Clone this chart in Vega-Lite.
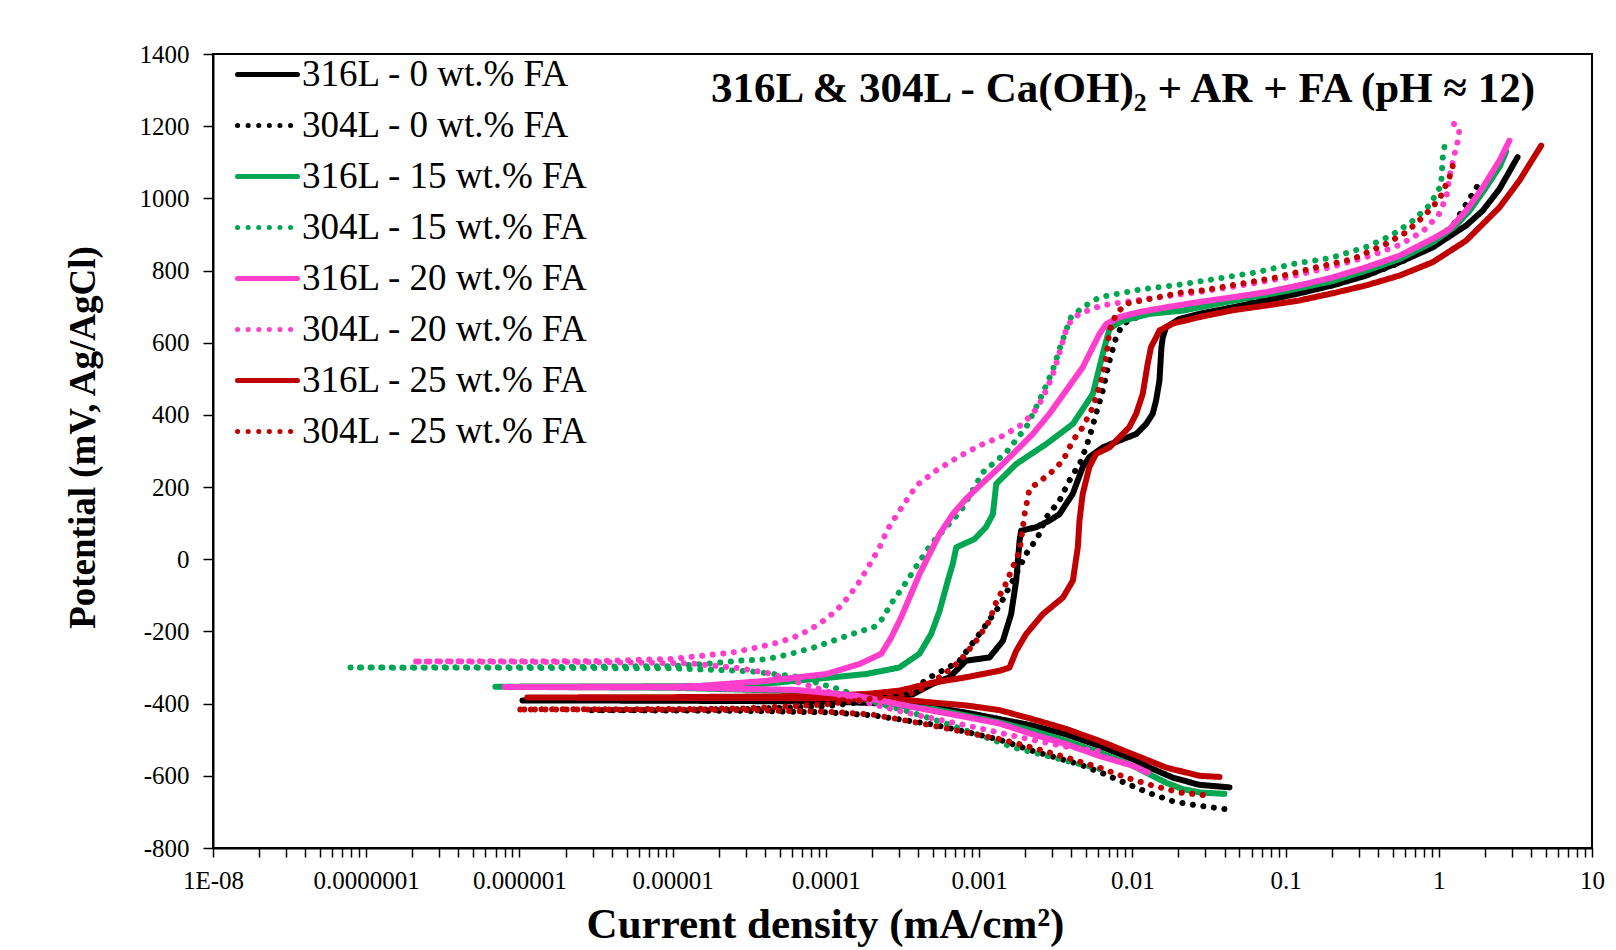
{
"$schema": "https://vega.github.io/schema/vega-lite/v6.json",
"width": 1379, "height": 794,
"autosize": {"type": "none"},
"padding": {"left": 213, "top": 54, "right": 24, "bottom": 102},
"background": "white",
"config": {
  "view": {"stroke": "black", "strokeWidth": 2},
  "axis": {"grid": false, "domainColor": "black", "domainWidth": 2, "tickColor": "black", "tickWidth": 1.5, "labelColor": "black", "titleColor": "black", "labelFont": "Liberation Serif", "titleFont": "Liberation Serif"}
},
"title": {"text": "316L & 304L - Ca(OH)₂ + AR + FA (pH ≈ 12)", "anchor": "end", "frame": "group", "offset": -103, "dx": -57, "font": "Liberation Serif", "fontSize": 43, "fontWeight": "bold", "color": "black", "baseline": "alphabetic"},
"data": {"values": [
{"s":"304L - 0 wt.% FA","i":0.0399,"E":-692},{"s":"304L - 0 wt.% FA","i":0.02742,"E":-683},{"s":"304L - 0 wt.% FA","i":0.01884,"E":-672},{"s":"304L - 0 wt.% FA","i":0.01294,"E":-648},{"s":"304L - 0 wt.% FA","i":0.00912,"E":-621},{"s":"304L - 0 wt.% FA","i":0.006412,"E":-593},{"s":"304L - 0 wt.% FA","i":0.004519,"E":-568},{"s":"304L - 0 wt.% FA","i":0.002239,"E":-531},{"s":"304L - 0 wt.% FA","i":0.001358,"E":-500},{"s":"304L - 0 wt.% FA","i":0.0008222,"E":-478},{"s":"304L - 0 wt.% FA","i":0.0004989,"E":-458},{"s":"304L - 0 wt.% FA","i":0.0003162,"E":-445},{"s":"304L - 0 wt.% FA","i":0.0001995,"E":-432},{"s":"304L - 0 wt.% FA","i":0.0001,"E":-424},{"s":"304L - 0 wt.% FA","i":0.00003162,"E":-420},{"s":"304L - 0 wt.% FA","i":0.00001,"E":-419},{"s":"304L - 0 wt.% FA","i":0.000002891,"E":-418},{"s":"304L - 0 wt.% FA","i":0.00001,"E":-417},{"s":"304L - 0 wt.% FA","i":0.00003162,"E":-415},{"s":"304L - 0 wt.% FA","i":0.0001,"E":-407},{"s":"304L - 0 wt.% FA","i":0.0001995,"E":-392},{"s":"304L - 0 wt.% FA","i":0.0003162,"E":-372},{"s":"304L - 0 wt.% FA","i":0.0003981,"E":-350},{"s":"304L - 0 wt.% FA","i":0.0005012,"E":-322},{"s":"304L - 0 wt.% FA","i":0.000631,"E":-300},{"s":"304L - 0 wt.% FA","i":0.0007447,"E":-281},{"s":"304L - 0 wt.% FA","i":0.001005,"E":-207},{"s":"304L - 0 wt.% FA","i":0.001358,"E":-129},{"s":"304L - 0 wt.% FA","i":0.001746,"E":-41},{"s":"304L - 0 wt.% FA","i":0.002028,"E":15},{"s":"304L - 0 wt.% FA","i":0.002415,"E":61},{"s":"304L - 0 wt.% FA","i":0.002742,"E":116},{"s":"304L - 0 wt.% FA","i":0.00335,"E":163},{"s":"304L - 0 wt.% FA","i":0.003882,"E":218},{"s":"304L - 0 wt.% FA","i":0.004634,"E":273},{"s":"304L - 0 wt.% FA","i":0.005248,"E":338},{"s":"304L - 0 wt.% FA","i":0.005794,"E":403},{"s":"304L - 0 wt.% FA","i":0.006412,"E":467},{"s":"304L - 0 wt.% FA","i":0.007096,"E":550},{"s":"304L - 0 wt.% FA","i":0.007834,"E":615},{"s":"304L - 0 wt.% FA","i":0.00867,"E":652},{"s":"304L - 0 wt.% FA","i":0.01259,"E":685},{"s":"304L - 0 wt.% FA","i":0.02512,"E":703},{"s":"304L - 0 wt.% FA","i":0.05012,"E":720},{"s":"304L - 0 wt.% FA","i":0.1,"E":737},{"s":"304L - 0 wt.% FA","i":0.1995,"E":760},{"s":"304L - 0 wt.% FA","i":0.3548,"E":790},{"s":"304L - 0 wt.% FA","i":0.5623,"E":822},{"s":"304L - 0 wt.% FA","i":0.8913,"E":868},{"s":"304L - 0 wt.% FA","i":1.259,"E":930},{"s":"304L - 0 wt.% FA","i":1.778,"E":1033},
{"s":"316L - 0 wt.% FA","i":0.04305,"E":-632},{"s":"316L - 0 wt.% FA","i":0.02742,"E":-625},{"s":"316L - 0 wt.% FA","i":0.01837,"E":-605},{"s":"316L - 0 wt.% FA","i":0.01294,"E":-577},{"s":"316L - 0 wt.% FA","i":0.01007,"E":-554},{"s":"316L - 0 wt.% FA","i":0.006095,"E":-517},{"s":"316L - 0 wt.% FA","i":0.00369,"E":-485},{"s":"316L - 0 wt.% FA","i":0.002239,"E":-461},{"s":"316L - 0 wt.% FA","i":0.001358,"E":-443},{"s":"316L - 0 wt.% FA","i":0.0008222,"E":-425},{"s":"316L - 0 wt.% FA","i":0.0004989,"E":-410},{"s":"316L - 0 wt.% FA","i":0.0003013,"E":-401},{"s":"316L - 0 wt.% FA","i":0.0001,"E":-394},{"s":"316L - 0 wt.% FA","i":0.00001,"E":-392},{"s":"316L - 0 wt.% FA","i":0.000001047,"E":-391},{"s":"316L - 0 wt.% FA","i":0.00001,"E":-390},{"s":"316L - 0 wt.% FA","i":0.0001,"E":-389},{"s":"316L - 0 wt.% FA","i":0.0002512,"E":-385},{"s":"316L - 0 wt.% FA","i":0.0003698,"E":-374},{"s":"316L - 0 wt.% FA","i":0.0004989,"E":-345},{"s":"316L - 0 wt.% FA","i":0.0006412,"E":-327},{"s":"316L - 0 wt.% FA","i":0.0008222,"E":-281},{"s":"316L - 0 wt.% FA","i":0.001169,"E":-272},{"s":"316L - 0 wt.% FA","i":0.001429,"E":-226},{"s":"316L - 0 wt.% FA","i":0.001618,"E":-152},{"s":"316L - 0 wt.% FA","i":0.001746,"E":-59},{"s":"316L - 0 wt.% FA","i":0.001837,"E":51},{"s":"316L - 0 wt.% FA","i":0.001879,"E":79},{"s":"316L - 0 wt.% FA","i":0.00236,"E":89},{"s":"316L - 0 wt.% FA","i":0.002877,"E":107},{"s":"316L - 0 wt.% FA","i":0.00335,"E":125},{"s":"316L - 0 wt.% FA","i":0.00369,"E":153},{"s":"316L - 0 wt.% FA","i":0.004083,"E":181},{"s":"316L - 0 wt.% FA","i":0.004742,"E":255},{"s":"316L - 0 wt.% FA","i":0.005236,"E":283},{"s":"316L - 0 wt.% FA","i":0.006412,"E":310},{"s":"316L - 0 wt.% FA","i":0.008241,"E":329},{"s":"316L - 0 wt.% FA","i":0.01059,"E":347},{"s":"316L - 0 wt.% FA","i":0.0123,"E":375},{"s":"316L - 0 wt.% FA","i":0.01358,"E":403},{"s":"316L - 0 wt.% FA","i":0.01429,"E":440},{"s":"316L - 0 wt.% FA","i":0.01503,"E":495},{"s":"316L - 0 wt.% FA","i":0.01549,"E":588},{"s":"316L - 0 wt.% FA","i":0.01581,"E":615},{"s":"316L - 0 wt.% FA","i":0.0166,"E":643},{"s":"316L - 0 wt.% FA","i":0.02032,"E":666},{"s":"316L - 0 wt.% FA","i":0.02742,"E":680},{"s":"316L - 0 wt.% FA","i":0.04529,"E":698},{"s":"316L - 0 wt.% FA","i":0.07482,"E":717},{"s":"316L - 0 wt.% FA","i":0.1233,"E":737},{"s":"316L - 0 wt.% FA","i":0.2032,"E":759},{"s":"316L - 0 wt.% FA","i":0.3357,"E":786},{"s":"316L - 0 wt.% FA","i":0.5534,"E":823},{"s":"316L - 0 wt.% FA","i":0.912,"E":864},{"s":"316L - 0 wt.% FA","i":1.51,"E":925},{"s":"316L - 0 wt.% FA","i":1.936,"E":966},{"s":"316L - 0 wt.% FA","i":2.489,"E":1026},{"s":"316L - 0 wt.% FA","i":3.266,"E":1114},
{"s":"304L - 15 wt.% FA","i":0.006095,"E":-581},{"s":"304L - 15 wt.% FA","i":0.003027,"E":-549},{"s":"304L - 15 wt.% FA","i":0.001698,"E":-522},{"s":"304L - 15 wt.% FA","i":0.0009817,"E":-486},{"s":"304L - 15 wt.% FA","i":0.0005794,"E":-452},{"s":"304L - 15 wt.% FA","i":0.0003342,"E":-420},{"s":"304L - 15 wt.% FA","i":0.0001995,"E":-395},{"s":"304L - 15 wt.% FA","i":0.0001259,"E":-362},{"s":"304L - 15 wt.% FA","i":0.0000631,"E":-325},{"s":"304L - 15 wt.% FA","i":0.00003162,"E":-310},{"s":"304L - 15 wt.% FA","i":0.00001,"E":-302},{"s":"304L - 15 wt.% FA","i":0.000001,"E":-301},{"s":"304L - 15 wt.% FA","i":0.00000007834,"E":-300},{"s":"304L - 15 wt.% FA","i":0.000001,"E":-299},{"s":"304L - 15 wt.% FA","i":0.00001,"E":-296},{"s":"304L - 15 wt.% FA","i":0.00001611,"E":-290},{"s":"304L - 15 wt.% FA","i":0.00002729,"E":-281},{"s":"304L - 15 wt.% FA","i":0.00004074,"E":-277},{"s":"304L - 15 wt.% FA","i":0.00005781,"E":-263},{"s":"304L - 15 wt.% FA","i":0.00008414,"E":-244},{"s":"304L - 15 wt.% FA","i":0.0001197,"E":-221},{"s":"304L - 15 wt.% FA","i":0.0001714,"E":-198},{"s":"304L - 15 wt.% FA","i":0.0002046,"E":-189},{"s":"304L - 15 wt.% FA","i":0.0002296,"E":-169},{"s":"304L - 15 wt.% FA","i":0.0002735,"E":-116},{"s":"304L - 15 wt.% FA","i":0.0003342,"E":-64},{"s":"304L - 15 wt.% FA","i":0.0003981,"E":-13},{"s":"304L - 15 wt.% FA","i":0.0004864,"E":42},{"s":"304L - 15 wt.% FA","i":0.0006095,"E":89},{"s":"304L - 15 wt.% FA","i":0.0007621,"E":135},{"s":"304L - 15 wt.% FA","i":0.0009333,"E":200},{"s":"304L - 15 wt.% FA","i":0.001057,"E":241},{"s":"304L - 15 wt.% FA","i":0.001503,"E":296},{"s":"304L - 15 wt.% FA","i":0.002028,"E":366},{"s":"304L - 15 wt.% FA","i":0.002477,"E":440},{"s":"304L - 15 wt.% FA","i":0.00302,"E":523},{"s":"304L - 15 wt.% FA","i":0.003436,"E":597},{"s":"304L - 15 wt.% FA","i":0.003981,"E":671},{"s":"304L - 15 wt.% FA","i":0.004753,"E":698},{"s":"304L - 15 wt.% FA","i":0.006095,"E":726},{"s":"304L - 15 wt.% FA","i":0.01112,"E":747},{"s":"304L - 15 wt.% FA","i":0.02032,"E":761},{"s":"304L - 15 wt.% FA","i":0.03524,"E":777},{"s":"304L - 15 wt.% FA","i":0.06427,"E":795},{"s":"304L - 15 wt.% FA","i":0.1143,"E":819},{"s":"304L - 15 wt.% FA","i":0.1982,"E":835},{"s":"304L - 15 wt.% FA","i":0.3443,"E":867},{"s":"304L - 15 wt.% FA","i":0.4887,"E":897},{"s":"304L - 15 wt.% FA","i":0.6607,"E":934},{"s":"304L - 15 wt.% FA","i":0.867,"E":980},{"s":"304L - 15 wt.% FA","i":1.035,"E":1036},{"s":"304L - 15 wt.% FA","i":1.062,"E":1114},{"s":"304L - 15 wt.% FA","i":1.114,"E":1170},
{"s":"316L - 15 wt.% FA","i":0.0399,"E":-650},{"s":"316L - 15 wt.% FA","i":0.02742,"E":-646},{"s":"316L - 15 wt.% FA","i":0.02138,"E":-637},{"s":"316L - 15 wt.% FA","i":0.0166,"E":-619},{"s":"316L - 15 wt.% FA","i":0.01294,"E":-596},{"s":"316L - 15 wt.% FA","i":0.01007,"E":-572},{"s":"316L - 15 wt.% FA","i":0.006095,"E":-535},{"s":"316L - 15 wt.% FA","i":0.00369,"E":-503},{"s":"316L - 15 wt.% FA","i":0.002239,"E":-475},{"s":"316L - 15 wt.% FA","i":0.001358,"E":-452},{"s":"316L - 15 wt.% FA","i":0.0008222,"E":-433},{"s":"316L - 15 wt.% FA","i":0.0004989,"E":-415},{"s":"316L - 15 wt.% FA","i":0.0003013,"E":-405},{"s":"316L - 15 wt.% FA","i":0.0001585,"E":-383},{"s":"316L - 15 wt.% FA","i":0.0000631,"E":-365},{"s":"316L - 15 wt.% FA","i":0.00001,"E":-356},{"s":"316L - 15 wt.% FA","i":0.0000006966,"E":-353},{"s":"316L - 15 wt.% FA","i":0.00001,"E":-352},{"s":"316L - 15 wt.% FA","i":0.00003162,"E":-349},{"s":"316L - 15 wt.% FA","i":0.0001109,"E":-327},{"s":"316L - 15 wt.% FA","i":0.0001832,"E":-318},{"s":"316L - 15 wt.% FA","i":0.0003013,"E":-300},{"s":"316L - 15 wt.% FA","i":0.0004074,"E":-262},{"s":"316L - 15 wt.% FA","i":0.0004864,"E":-207},{"s":"316L - 15 wt.% FA","i":0.0005521,"E":-143},{"s":"316L - 15 wt.% FA","i":0.0006252,"E":-59},{"s":"316L - 15 wt.% FA","i":0.000673,"E":-13},{"s":"316L - 15 wt.% FA","i":0.0007096,"E":33},{"s":"316L - 15 wt.% FA","i":0.0009333,"E":56},{"s":"316L - 15 wt.% FA","i":0.001109,"E":89},{"s":"316L - 15 wt.% FA","i":0.00123,"E":125},{"s":"316L - 15 wt.% FA","i":0.001294,"E":209},{"s":"316L - 15 wt.% FA","i":0.001746,"E":264},{"s":"316L - 15 wt.% FA","i":0.002735,"E":319},{"s":"316L - 15 wt.% FA","i":0.004093,"E":375},{"s":"316L - 15 wt.% FA","i":0.005521,"E":458},{"s":"316L - 15 wt.% FA","i":0.006412,"E":569},{"s":"316L - 15 wt.% FA","i":0.007096,"E":639},{"s":"316L - 15 wt.% FA","i":0.00867,"E":661},{"s":"316L - 15 wt.% FA","i":0.01294,"E":680},{"s":"316L - 15 wt.% FA","i":0.02138,"E":689},{"s":"316L - 15 wt.% FA","i":0.05821,"E":725},{"s":"316L - 15 wt.% FA","i":0.1,"E":743},{"s":"316L - 15 wt.% FA","i":0.1995,"E":770},{"s":"316L - 15 wt.% FA","i":0.3548,"E":803},{"s":"316L - 15 wt.% FA","i":0.5623,"E":833},{"s":"316L - 15 wt.% FA","i":0.912,"E":878},{"s":"316L - 15 wt.% FA","i":1.259,"E":920},{"s":"316L - 15 wt.% FA","i":1.585,"E":965},{"s":"316L - 15 wt.% FA","i":1.995,"E":1025},{"s":"316L - 15 wt.% FA","i":2.512,"E":1090},{"s":"316L - 15 wt.% FA","i":2.754,"E":1130},
{"s":"316L - 25 wt.% FA","i":0.03707,"E":-603},{"s":"316L - 25 wt.% FA","i":0.02742,"E":-600},{"s":"316L - 25 wt.% FA","i":0.0166,"E":-577},{"s":"316L - 25 wt.% FA","i":0.01007,"E":-540},{"s":"316L - 25 wt.% FA","i":0.006095,"E":-503},{"s":"316L - 25 wt.% FA","i":0.00369,"E":-470},{"s":"316L - 25 wt.% FA","i":0.002239,"E":-443},{"s":"316L - 25 wt.% FA","i":0.001358,"E":-418},{"s":"316L - 25 wt.% FA","i":0.0008222,"E":-405},{"s":"316L - 25 wt.% FA","i":0.0004989,"E":-397},{"s":"316L - 25 wt.% FA","i":0.0003013,"E":-388},{"s":"316L - 25 wt.% FA","i":0.0001,"E":-385},{"s":"316L - 25 wt.% FA","i":0.00001,"E":-384},{"s":"316L - 25 wt.% FA","i":0.000001125,"E":-383},{"s":"316L - 25 wt.% FA","i":0.00001,"E":-382},{"s":"316L - 25 wt.% FA","i":0.0001,"E":-379},{"s":"316L - 25 wt.% FA","i":0.0001995,"E":-372},{"s":"316L - 25 wt.% FA","i":0.0003013,"E":-364},{"s":"316L - 25 wt.% FA","i":0.0004989,"E":-342},{"s":"316L - 25 wt.% FA","i":0.0008222,"E":-327},{"s":"316L - 25 wt.% FA","i":0.001358,"E":-309},{"s":"316L - 25 wt.% FA","i":0.001578,"E":-300},{"s":"316L - 25 wt.% FA","i":0.001746,"E":-254},{"s":"316L - 25 wt.% FA","i":0.002028,"E":-207},{"s":"316L - 25 wt.% FA","i":0.002606,"E":-152},{"s":"316L - 25 wt.% FA","i":0.003524,"E":-106},{"s":"316L - 25 wt.% FA","i":0.004093,"E":-59},{"s":"316L - 25 wt.% FA","i":0.004406,"E":33},{"s":"316L - 25 wt.% FA","i":0.004519,"E":107},{"s":"316L - 25 wt.% FA","i":0.004742,"E":181},{"s":"316L - 25 wt.% FA","i":0.005236,"E":255},{"s":"316L - 25 wt.% FA","i":0.005794,"E":292},{"s":"316L - 25 wt.% FA","i":0.007096,"E":310},{"s":"316L - 25 wt.% FA","i":0.008241,"E":338},{"s":"316L - 25 wt.% FA","i":0.00955,"E":366},{"s":"316L - 25 wt.% FA","i":0.01059,"E":403},{"s":"316L - 25 wt.% FA","i":0.01169,"E":458},{"s":"316L - 25 wt.% FA","i":0.01259,"E":541},{"s":"316L - 25 wt.% FA","i":0.01324,"E":588},{"s":"316L - 25 wt.% FA","i":0.01429,"E":615},{"s":"316L - 25 wt.% FA","i":0.01503,"E":634},{"s":"316L - 25 wt.% FA","i":0.01837,"E":653},{"s":"316L - 25 wt.% FA","i":0.02742,"E":671},{"s":"316L - 25 wt.% FA","i":0.04529,"E":690},{"s":"316L - 25 wt.% FA","i":0.07482,"E":703},{"s":"316L - 25 wt.% FA","i":0.1233,"E":717},{"s":"316L - 25 wt.% FA","i":0.2032,"E":737},{"s":"316L - 25 wt.% FA","i":0.3357,"E":759},{"s":"316L - 25 wt.% FA","i":0.5534,"E":786},{"s":"316L - 25 wt.% FA","i":0.912,"E":823},{"s":"316L - 25 wt.% FA","i":1.51,"E":883},{"s":"316L - 25 wt.% FA","i":2.489,"E":975},{"s":"316L - 25 wt.% FA","i":3.357,"E":1049},{"s":"316L - 25 wt.% FA","i":4.656,"E":1146},
{"s":"316L - 20 wt.% FA","i":0.01262,"E":-591},{"s":"316L - 20 wt.% FA","i":0.01007,"E":-572},{"s":"316L - 20 wt.% FA","i":0.006095,"E":-545},{"s":"316L - 20 wt.% FA","i":0.003698,"E":-512},{"s":"316L - 20 wt.% FA","i":0.002239,"E":-485},{"s":"316L - 20 wt.% FA","i":0.001358,"E":-455},{"s":"316L - 20 wt.% FA","i":0.0008222,"E":-437},{"s":"316L - 20 wt.% FA","i":0.0004989,"E":-420},{"s":"316L - 20 wt.% FA","i":0.0003013,"E":-402},{"s":"316L - 20 wt.% FA","i":0.0001585,"E":-378},{"s":"316L - 20 wt.% FA","i":0.0000631,"E":-362},{"s":"316L - 20 wt.% FA","i":0.00001,"E":-355},{"s":"316L - 20 wt.% FA","i":0.0000007998,"E":-354},{"s":"316L - 20 wt.% FA","i":0.00001,"E":-353},{"s":"316L - 20 wt.% FA","i":0.000015,"E":-351},{"s":"316L - 20 wt.% FA","i":0.00004074,"E":-337},{"s":"316L - 20 wt.% FA","i":0.0001007,"E":-318},{"s":"316L - 20 wt.% FA","i":0.000166,"E":-290},{"s":"316L - 20 wt.% FA","i":0.0002296,"E":-262},{"s":"316L - 20 wt.% FA","i":0.0002667,"E":-217},{"s":"316L - 20 wt.% FA","i":0.0003097,"E":-161},{"s":"316L - 20 wt.% FA","i":0.0003516,"E":-106},{"s":"316L - 20 wt.% FA","i":0.0004083,"E":-41},{"s":"316L - 20 wt.% FA","i":0.0004753,"E":15},{"s":"316L - 20 wt.% FA","i":0.0005521,"E":70},{"s":"316L - 20 wt.% FA","i":0.000673,"E":125},{"s":"316L - 20 wt.% FA","i":0.0008241,"E":168},{"s":"316L - 20 wt.% FA","i":0.001057,"E":212},{"s":"316L - 20 wt.% FA","i":0.001358,"E":255},{"s":"316L - 20 wt.% FA","i":0.001746,"E":301},{"s":"316L - 20 wt.% FA","i":0.002239,"E":347},{"s":"316L - 20 wt.% FA","i":0.002877,"E":403},{"s":"316L - 20 wt.% FA","i":0.00369,"E":467},{"s":"316L - 20 wt.% FA","i":0.004742,"E":532},{"s":"316L - 20 wt.% FA","i":0.005521,"E":588},{"s":"316L - 20 wt.% FA","i":0.006095,"E":624},{"s":"316L - 20 wt.% FA","i":0.006761,"E":652},{"s":"316L - 20 wt.% FA","i":0.008241,"E":671},{"s":"316L - 20 wt.% FA","i":0.01112,"E":685},{"s":"316L - 20 wt.% FA","i":0.0166,"E":698},{"s":"316L - 20 wt.% FA","i":0.02742,"E":713},{"s":"316L - 20 wt.% FA","i":0.04529,"E":726},{"s":"316L - 20 wt.% FA","i":0.07482,"E":740},{"s":"316L - 20 wt.% FA","i":0.1233,"E":759},{"s":"316L - 20 wt.% FA","i":0.2032,"E":781},{"s":"316L - 20 wt.% FA","i":0.3357,"E":809},{"s":"316L - 20 wt.% FA","i":0.5534,"E":841},{"s":"316L - 20 wt.% FA","i":0.912,"E":888},{"s":"316L - 20 wt.% FA","i":1.175,"E":915},{"s":"316L - 20 wt.% FA","i":1.51,"E":966},{"s":"316L - 20 wt.% FA","i":1.936,"E":1030},{"s":"316L - 20 wt.% FA","i":2.489,"E":1105},{"s":"316L - 20 wt.% FA","i":2.891,"E":1160},
{"s":"304L - 20 wt.% FA","i":0.005943,"E":-531},{"s":"304L - 20 wt.% FA","i":0.003981,"E":-522},{"s":"304L - 20 wt.% FA","i":0.002512,"E":-505},{"s":"304L - 20 wt.% FA","i":0.001585,"E":-487},{"s":"304L - 20 wt.% FA","i":0.001,"E":-468},{"s":"304L - 20 wt.% FA","i":0.000631,"E":-450},{"s":"304L - 20 wt.% FA","i":0.0003981,"E":-432},{"s":"304L - 20 wt.% FA","i":0.0002512,"E":-412},{"s":"304L - 20 wt.% FA","i":0.0001585,"E":-390},{"s":"304L - 20 wt.% FA","i":0.0001,"E":-365},{"s":"304L - 20 wt.% FA","i":0.00005781,"E":-333},{"s":"304L - 20 wt.% FA","i":0.00003981,"E":-313},{"s":"304L - 20 wt.% FA","i":0.00002472,"E":-300},{"s":"304L - 20 wt.% FA","i":0.00001259,"E":-288},{"s":"304L - 20 wt.% FA","i":0.000003162,"E":-285},{"s":"304L - 20 wt.% FA","i":0.0000001995,"E":-283},{"s":"304L - 20 wt.% FA","i":0.000003162,"E":-282},{"s":"304L - 20 wt.% FA","i":0.00001,"E":-276},{"s":"304L - 20 wt.% FA","i":0.000015,"E":-268},{"s":"304L - 20 wt.% FA","i":0.00002472,"E":-258},{"s":"304L - 20 wt.% FA","i":0.00003597,"E":-244},{"s":"304L - 20 wt.% FA","i":0.00004977,"E":-230},{"s":"304L - 20 wt.% FA","i":0.0000673,"E":-210},{"s":"304L - 20 wt.% FA","i":0.00009099,"E":-179},{"s":"304L - 20 wt.% FA","i":0.0001167,"E":-143},{"s":"304L - 20 wt.% FA","i":0.000139,"E":-106},{"s":"304L - 20 wt.% FA","i":0.0001614,"E":-69},{"s":"304L - 20 wt.% FA","i":0.0001879,"E":-23},{"s":"304L - 20 wt.% FA","i":0.0002239,"E":33},{"s":"304L - 20 wt.% FA","i":0.0002535,"E":84},{"s":"304L - 20 wt.% FA","i":0.000302,"E":134},{"s":"304L - 20 wt.% FA","i":0.000389,"E":204},{"s":"304L - 20 wt.% FA","i":0.0005248,"E":246},{"s":"304L - 20 wt.% FA","i":0.0007278,"E":283},{"s":"304L - 20 wt.% FA","i":0.001007,"E":315},{"s":"304L - 20 wt.% FA","i":0.001429,"E":342},{"s":"304L - 20 wt.% FA","i":0.001932,"E":375},{"s":"304L - 20 wt.% FA","i":0.002415,"E":421},{"s":"304L - 20 wt.% FA","i":0.002805,"E":477},{"s":"304L - 20 wt.% FA","i":0.003097,"E":523},{"s":"304L - 20 wt.% FA","i":0.00335,"E":573},{"s":"304L - 20 wt.% FA","i":0.00369,"E":634},{"s":"304L - 20 wt.% FA","i":0.003981,"E":661},{"s":"304L - 20 wt.% FA","i":0.004508,"E":680},{"s":"304L - 20 wt.% FA","i":0.006266,"E":703},{"s":"304L - 20 wt.% FA","i":0.00867,"E":712},{"s":"304L - 20 wt.% FA","i":0.01259,"E":722},{"s":"304L - 20 wt.% FA","i":0.02512,"E":738},{"s":"304L - 20 wt.% FA","i":0.05012,"E":758},{"s":"304L - 20 wt.% FA","i":0.1,"E":780},{"s":"304L - 20 wt.% FA","i":0.1995,"E":810},{"s":"304L - 20 wt.% FA","i":0.3548,"E":840},{"s":"304L - 20 wt.% FA","i":0.5623,"E":872},{"s":"304L - 20 wt.% FA","i":0.7943,"E":910},{"s":"304L - 20 wt.% FA","i":1.0,"E":955},{"s":"304L - 20 wt.% FA","i":1.122,"E":1005},{"s":"304L - 20 wt.% FA","i":1.175,"E":1059},{"s":"304L - 20 wt.% FA","i":1.268,"E":1123},{"s":"304L - 20 wt.% FA","i":1.334,"E":1160},{"s":"304L - 20 wt.% FA","i":1.365,"E":1193},{"s":"304L - 20 wt.% FA","i":1.236,"E":1209},
{"s":"304L - 25 wt.% FA","i":0.02884,"E":-653},{"s":"304L - 25 wt.% FA","i":0.02032,"E":-646},{"s":"304L - 25 wt.% FA","i":0.01358,"E":-627},{"s":"304L - 25 wt.% FA","i":0.00912,"E":-605},{"s":"304L - 25 wt.% FA","i":0.006095,"E":-577},{"s":"304L - 25 wt.% FA","i":0.00369,"E":-549},{"s":"304L - 25 wt.% FA","i":0.002239,"E":-522},{"s":"304L - 25 wt.% FA","i":0.001358,"E":-498},{"s":"304L - 25 wt.% FA","i":0.0008222,"E":-480},{"s":"304L - 25 wt.% FA","i":0.0004989,"E":-461},{"s":"304L - 25 wt.% FA","i":0.0003342,"E":-447},{"s":"304L - 25 wt.% FA","i":0.0001995,"E":-430},{"s":"304L - 25 wt.% FA","i":0.0001,"E":-422},{"s":"304L - 25 wt.% FA","i":0.00003162,"E":-418},{"s":"304L - 25 wt.% FA","i":0.00001,"E":-417},{"s":"304L - 25 wt.% FA","i":0.0000009638,"E":-416},{"s":"304L - 25 wt.% FA","i":0.00001,"E":-415},{"s":"304L - 25 wt.% FA","i":0.00003162,"E":-413},{"s":"304L - 25 wt.% FA","i":0.0001,"E":-402},{"s":"304L - 25 wt.% FA","i":0.0001995,"E":-386},{"s":"304L - 25 wt.% FA","i":0.0003162,"E":-375},{"s":"304L - 25 wt.% FA","i":0.000389,"E":-369},{"s":"304L - 25 wt.% FA","i":0.0005508,"E":-327},{"s":"304L - 25 wt.% FA","i":0.000673,"E":-300},{"s":"304L - 25 wt.% FA","i":0.0007816,"E":-272},{"s":"304L - 25 wt.% FA","i":0.0009572,"E":-226},{"s":"304L - 25 wt.% FA","i":0.001169,"E":-170},{"s":"304L - 25 wt.% FA","i":0.001324,"E":-106},{"s":"304L - 25 wt.% FA","i":0.001429,"E":-87},{"s":"304L - 25 wt.% FA","i":0.001837,"E":23},{"s":"304L - 25 wt.% FA","i":0.001982,"E":125},{"s":"304L - 25 wt.% FA","i":0.002133,"E":195},{"s":"304L - 25 wt.% FA","i":0.002877,"E":236},{"s":"304L - 25 wt.% FA","i":0.003524,"E":273},{"s":"304L - 25 wt.% FA","i":0.004093,"E":329},{"s":"304L - 25 wt.% FA","i":0.004753,"E":366},{"s":"304L - 25 wt.% FA","i":0.005521,"E":421},{"s":"304L - 25 wt.% FA","i":0.006266,"E":495},{"s":"304L - 25 wt.% FA","i":0.006761,"E":560},{"s":"304L - 25 wt.% FA","i":0.007096,"E":634},{"s":"304L - 25 wt.% FA","i":0.007834,"E":680},{"s":"304L - 25 wt.% FA","i":0.00912,"E":708},{"s":"304L - 25 wt.% FA","i":0.01294,"E":721},{"s":"304L - 25 wt.% FA","i":0.02133,"E":740},{"s":"304L - 25 wt.% FA","i":0.02884,"E":745},{"s":"304L - 25 wt.% FA","i":0.05,"E":763},{"s":"304L - 25 wt.% FA","i":0.0869,"E":781},{"s":"304L - 25 wt.% FA","i":0.1589,"E":809},{"s":"304L - 25 wt.% FA","i":0.2748,"E":832},{"s":"304L - 25 wt.% FA","i":0.4529,"E":874},{"s":"304L - 25 wt.% FA","i":0.6124,"E":906},{"s":"304L - 25 wt.% FA","i":0.8072,"E":952},{"s":"304L - 25 wt.% FA","i":1.012,"E":999},{"s":"304L - 25 wt.% FA","i":1.175,"E":1059},{"s":"304L - 25 wt.% FA","i":1.236,"E":1091}
]},
"mark": {"type": "line", "strokeCap": "round", "strokeJoin": "round", "strokeWidth": 6, "clip": true},
"encoding": {
  "x": {"field": "i", "type": "quantitative", "scale": {"type": "log", "domain": [1e-8, 10], "nice": false},
    "axis": {"title": "Current density (mA/cm²)", "titleFontSize": 43, "titleFontWeight": "bold", "titleX": 612, "titleY": 55, "titleAlign": "center", "titleBaseline": "top",
      "values": [1e-8,2e-8,3e-8,4e-8,5e-8,6e-8,7e-8,8e-8,9e-8,1e-7,2e-7,3e-7,4e-7,5e-7,6e-7,7e-7,8e-7,9e-7,1e-6,2e-6,3e-6,4e-6,5e-6,6e-6,7e-6,8e-6,9e-6,1e-5,2e-5,3e-5,4e-5,5e-5,6e-5,7e-5,8e-5,9e-5,1e-4,2e-4,3e-4,4e-4,5e-4,6e-4,7e-4,8e-4,9e-4,1e-3,2e-3,3e-3,4e-3,5e-3,6e-3,7e-3,8e-3,9e-3,0.01,0.02,0.03,0.04,0.05,0.06,0.07,0.08,0.09,0.1,0.2,0.3,0.4,0.5,0.6,0.7,0.8,0.9,1,2,3,4,5,6,7,8,9,10],
      "labelExpr": "abs(log(datum.value)/LN10 - round(log(datum.value)/LN10)) > 0.001 ? '' : datum.value < 5e-8 ? '1E-08' : datum.value < 5e-7 ? '0.0000001' : datum.value < 5e-6 ? '0.000001' : datum.value < 5e-5 ? '0.00001' : datum.value < 5e-4 ? '0.0001' : datum.value < 5e-3 ? '0.001' : datum.value < 0.05 ? '0.01' : datum.value < 0.5 ? '0.1' : datum.value < 5 ? '1' : '10'",
      "labelFontSize": 25, "labelPadding": 11, "tickSize": 9, "labelOverlap": false, "labelFlush": false, "labelBound": false}},
  "y": {"field": "E", "type": "quantitative", "scale": {"domain": [-800, 1400], "nice": false},
    "axis": {"title": "Potential (mV, Ag/AgCl)", "titleFontSize": 37, "titleFontWeight": "bold", "titleX": -111, "titleY": 383,
      "values": [-800,-600,-400,-200,0,200,400,600,800,1000,1200,1400], "labelExpr": "'' + datum.value",
      "labelFontSize": 25, "labelPadding": 14, "tickSize": 10}},
  "color": {"field": "s", "type": "nominal",
    "scale": {"domain": ["316L - 0 wt.% FA","304L - 0 wt.% FA","316L - 15 wt.% FA","304L - 15 wt.% FA","316L - 20 wt.% FA","304L - 20 wt.% FA","316L - 25 wt.% FA","304L - 25 wt.% FA"],
      "range": ["#000000","#000000","#00a651","#00a651","#ff3fcc","#ff3fcc","#c00000","#c00000"]},
    "legend": {"orient": "none", "legendX": 22, "legendY": -12, "title": null, "symbolType": "stroke", "symbolSize": 3600, "symbolStrokeWidth": 5, "labelFont": "Liberation Serif", "labelFontSize": 37, "labelColor": "black", "labelOffset": 2, "rowPadding": -8, "padding": 0, "labelLimit": 0,
      "encoding": {"symbols": {"strokeCap": {"value": "round"}}}}},
  "strokeDash": {"field": "s", "type": "nominal",
    "scale": {"domain": ["316L - 0 wt.% FA","304L - 0 wt.% FA","316L - 15 wt.% FA","304L - 15 wt.% FA","316L - 20 wt.% FA","304L - 20 wt.% FA","316L - 25 wt.% FA","304L - 25 wt.% FA"],
      "range": [[1,0],[0.1,10.5],[1,0],[0.1,10.5],[1,0],[0.1,10.5],[1,0],[0.1,10.5]]},
    "legend": {"orient": "none", "legendX": 22, "legendY": -12, "title": null, "symbolType": "stroke", "symbolSize": 3600, "symbolStrokeWidth": 5, "labelFont": "Liberation Serif", "labelFontSize": 37, "labelColor": "black", "labelOffset": 2, "rowPadding": -8, "padding": 0, "labelLimit": 0,
      "encoding": {"symbols": {"strokeCap": {"value": "round"}}}}},
  "order": {"field": "E", "type": "quantitative"}
}
}
